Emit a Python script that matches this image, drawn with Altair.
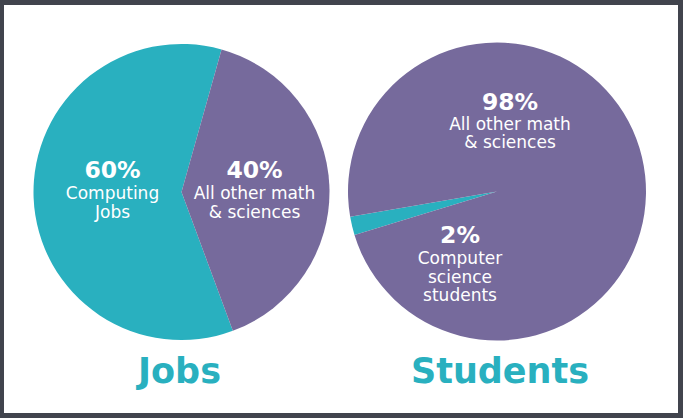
import math
import altair as alt
import pandas as pd

# --- data -------------------------------------------------------------
jobs_category = ["Computing Jobs", "All other math & sciences"]
jobs_group = ["computing", "other"]
jobs_share = [60, 40]
jobs_lines = [["Computing", "Jobs"], ["All other math", "& sciences"]]

students_category = ["Computer science students", "All other math & sciences"]
students_group = ["computing", "other"]
students_share = [2, 98]
students_lines = [["Computer", "science", "students"], ["All other math", "& sciences"]]

panel_titles = ["Jobs", "Students"]

# --- style ------------------------------------------------------------
TEAL = "#29B0BF"
PURPLE = "#766A9C"
FRAME = "#41444D"
FONT = "DejaVu Sans"
W, H = 683, 418

color_scale = alt.Scale(domain=["computing", "other"], range=[TEAL, PURPLE])


def pie(category, group, share, start_deg, cx, cy, r):
    df = pd.DataFrame({"category": category, "group": group, "share": share})
    start = math.radians(start_deg)
    return (
        alt.Chart(df)
        .mark_arc(radius=r, stroke=None)
        .encode(
            theta=alt.Theta("share:Q", stack=True,
                            scale=alt.Scale(range=[start, start + 2 * math.pi])),
            order=alt.Order("share:Q", sort="ascending"),
            color=alt.Color("group:N", scale=color_scale, legend=None),
            x=alt.value(cx),
            y=alt.value(cy),
        )
    )


def label(share, lines, x, y_pct, y_text):
    pct = (
        alt.Chart(pd.DataFrame({"t": [f"{share}%"]}))
        .mark_text(font=FONT, fontSize=23.5, fontWeight="bold", color="white",
                   align="center", baseline="alphabetic")
        .encode(text="t:N", x=alt.value(x), y=alt.value(y_pct))
    )
    desc = (
        alt.Chart(pd.DataFrame({"t": ["\n".join(lines)]}))
        .mark_text(font=FONT, fontSize=17, color="white", align="center",
                   baseline="alphabetic", lineBreak="\n", lineHeight=18.5)
        .encode(text="t:N", x=alt.value(x), y=alt.value(y_text))
    )
    return pct + desc


def heading(text, x):
    return (
        alt.Chart(pd.DataFrame({"t": [text]}))
        .mark_text(font=FONT, fontSize=35, fontWeight="bold", color=TEAL,
                   align="center", baseline="alphabetic")
        .encode(text="t:N", x=alt.value(x), y=alt.value(383))
    )


# white card inside the dark frame
card = (
    alt.Chart(pd.DataFrame({"a": [0]}))
    .mark_rect(color="white")
    .encode(x=alt.value(4), x2=alt.value(678), y=alt.value(5), y2=alt.value(413))
)

jobs_pie = pie(jobs_category, jobs_group, jobs_share, 15.7, 181.5, 192, 148)
students_pie = pie(students_category, students_group, students_share, 253, 497, 191.5, 149)

chart = (
    alt.layer(
        card,
        jobs_pie,
        students_pie,
        label(jobs_share[0], jobs_lines[0], 112.5, 177.5, 199),
        label(jobs_share[1], jobs_lines[1], 254.5, 177.5, 199),
        label(students_share[1], students_lines[1], 510, 109.5, 129.5),
        label(students_share[0], students_lines[0], 460, 243, 264),
        heading(panel_titles[0], 179.5),
        heading(panel_titles[1], 500),
    )
    .resolve_scale(theta="independent")
    .properties(width=W, height=H, background=FRAME, padding=0,
                autosize=alt.AutoSizeParams(type="none"))
    .configure_view(stroke=None)
)

chart.save("out.html", embed_options={"renderer": "svg", "actions": False})
